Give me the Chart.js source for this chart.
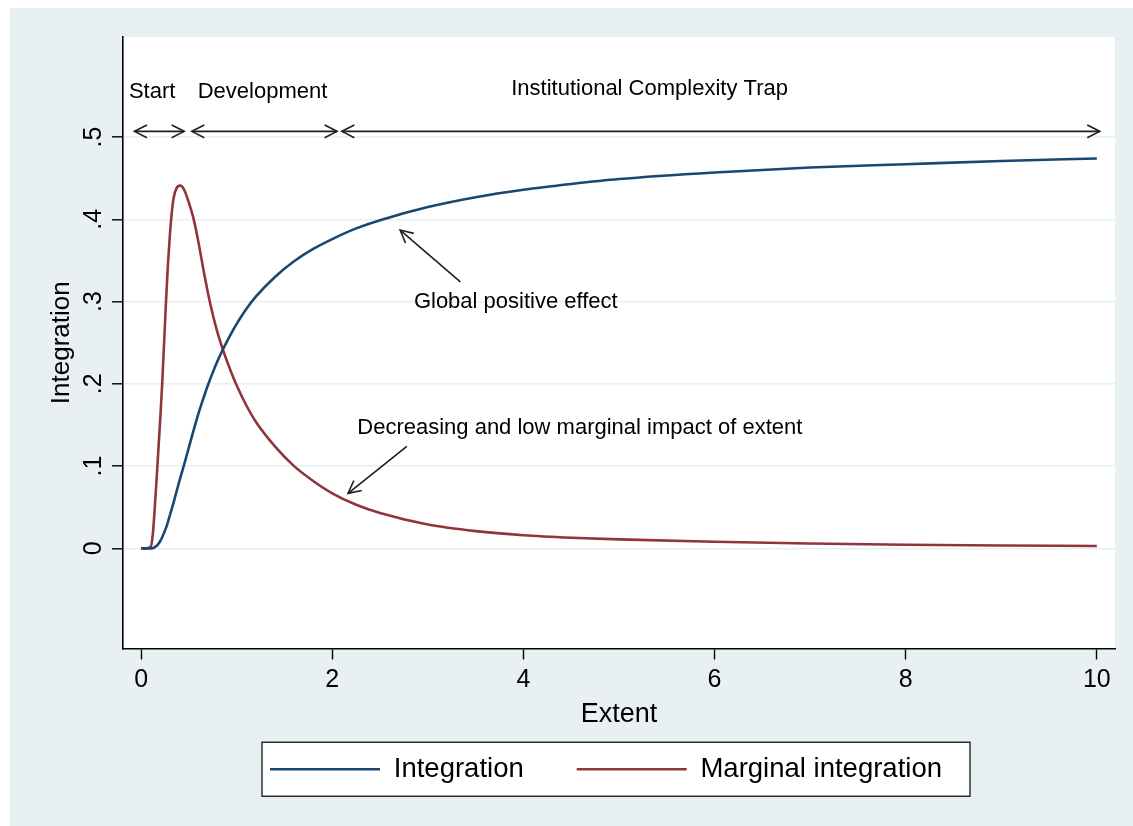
<!DOCTYPE html>
<html>
<head>
<meta charset="utf-8">
<script src="https://cdn.jsdelivr.net/npm/chart.js@4.4.1/dist/chart.umd.min.js"></script>
<style>
  html, body { margin: 0; padding: 0; background: #fff; }
  #panel { position: absolute; left: 10px; top: 8px; width: 1123px; height: 818px; background: #e9f0f3; }
</style>
</head>
<body>
<div id="panel"><canvas id="chart"></canvas></div>
<script>
    // values
    const extent = [0, 0.05, 0.1, 0.12, 0.14, 0.17, 0.2, 0.22, 0.26, 0.28, 0.3, 0.32, 0.34, 0.37, 0.41, 0.45, 0.5, 0.55,
        0.6, 0.65, 0.7, 0.75, 0.8, 0.86, 0.9, 0.96, 1.0, 1.1, 1.2, 1.4, 1.6, 1.8, 2.0, 2.25, 2.5,
        3, 3.5, 4, 4.5, 5, 6, 7, 8, 9, 10];
    const integration = [0, 0, 0, 0.0003, 0.0012, 0.004, 0.009, 0.0135, 0.025, 0.032, 0.04, 0.048, 0.056, 0.069, 0.086, 0.102, 0.123, 0.144,
        0.164, 0.182, 0.199, 0.214, 0.228, 0.243, 0.252, 0.265, 0.273, 0.291, 0.306, 0.330, 0.349, 0.364, 0.376, 0.389, 0.399,
        0.415, 0.427, 0.436, 0.443, 0.449, 0.457, 0.463, 0.467, 0.471, 0.474];
    const marginal = [0, 0, 0.002, 0.015, 0.045, 0.10, 0.158, 0.20, 0.30, 0.345, 0.38, 0.408, 0.426, 0.438, 0.441, 0.436, 0.42, 0.40,
        0.372, 0.340, 0.310, 0.284, 0.262, 0.240, 0.227, 0.209, 0.198, 0.174, 0.154, 0.124, 0.100, 0.082, 0.067, 0.053, 0.043,
        0.029, 0.021, 0.016, 0.013, 0.011, 0.008, 0.006, 0.0045, 0.0036, 0.003];

    const xTicks = [0, 2, 4, 6, 8, 10];
    const yTicks = [0, 0.1, 0.2, 0.3, 0.4, 0.5];
    const yTickLabels = ['0', '.1', '.2', '.3', '.4', '.5'];

    // phase labels and their double arrows (data units)
    const phaseNames = ['Start', 'Development', 'Institutional Complexity Trap'];
    const phaseTextX = [0.115, 1.27, 5.32];
    const phaseTextY = [0.555, 0.555, 0.558];
    const phaseFrom = [-0.07, 0.53, 2.10];
    const phaseTo = [0.45, 2.05, 10.03];
    const phaseArrowY = 0.507;

    // callouts: text position, arrow tail, arrow head
    const calloutText = ['Global positive effect', 'Decreasing and low marginal impact of extent'];
    const calloutPos = [[3.92, 0.300], [4.59, 0.146]];
    const calloutTail = [[3.34, 0.324], [2.78, 0.124]];
    const calloutHead = [[2.71, 0.387], [2.165, 0.067]];

    const FONT = '"Liberation Sans", Arial, Helvetica, sans-serif';
    Chart.defaults.font.family = FONT;
    Chart.defaults.color = '#000';

    function arrowHead(ctx, x1, y1, x2, y2) {
        const a = Math.atan2(y2 - y1, x2 - x1);
        const len = 14, spread = 0.47;
        ctx.beginPath();
        ctx.moveTo(x2 - len * Math.cos(a - spread), y2 - len * Math.sin(a - spread));
        ctx.lineTo(x2, y2);
        ctx.lineTo(x2 - len * Math.cos(a + spread), y2 - len * Math.sin(a + spread));
        ctx.stroke();
    }

    function arrow(ctx, x1, y1, x2, y2, both) {
        ctx.beginPath();
        ctx.moveTo(x1, y1);
        ctx.lineTo(x2, y2);
        ctx.stroke();
        arrowHead(ctx, x1, y1, x2, y2);
        if (both) arrowHead(ctx, x2, y2, x1, y1);
    }

    const plotBg = {
        id: 'plotBg',
        afterLayout(chart) {
            // Stata centres the legend a bit further left
            chart.legend.left -= 13;
            chart.legend.right -= 13;
        },
        beforeDraw(chart) {
            const { ctx, chartArea: a } = chart;
            ctx.save();
            ctx.fillStyle = '#fff';
            ctx.fillRect(a.left, a.top, a.right - a.left, a.bottom - a.top);
            ctx.restore();
        }
    };

    const notes = {
        id: 'notes',
        afterDatasetsDraw(chart) {
            const { ctx, scales: { x, y } } = chart;
            ctx.save();
            ctx.fillStyle = '#000';
            ctx.strokeStyle = '#1e1e1e';
            ctx.lineWidth = 1.6;
            ctx.font = '22px ' + FONT;
            ctx.textAlign = 'center';
            ctx.textBaseline = 'middle';

            const py = y.getPixelForValue(phaseArrowY);
            phaseNames.forEach((t, i) => {
                ctx.fillText(t, x.getPixelForValue(phaseTextX[i]), y.getPixelForValue(phaseTextY[i]));
                arrow(ctx, x.getPixelForValue(phaseFrom[i]), py, x.getPixelForValue(phaseTo[i]), py, true);
            });

            calloutText.forEach((t, i) => {
                ctx.fillText(t, x.getPixelForValue(calloutPos[i][0]), y.getPixelForValue(calloutPos[i][1]));
                arrow(ctx,
                    x.getPixelForValue(calloutTail[i][0]), y.getPixelForValue(calloutTail[i][1]),
                    x.getPixelForValue(calloutHead[i][0]), y.getPixelForValue(calloutHead[i][1]), false);
            });
            ctx.restore();
        },
        afterDraw(chart) {
            // frame round the legend, like Stata's
            const boxes = chart.legend.legendHitBoxes;
            if (!boxes || !boxes.length) return;
            const left = Math.min(...boxes.map(b => b.left)) - 8;
            const right = Math.max(...boxes.map(b => b.left + b.width)) + 28;
            const cy = boxes[0].top + boxes[0].height / 2;
            const ctx = chart.ctx;
            ctx.save();
            ctx.fillStyle = '#fff';
            ctx.strokeStyle = '#222';
            ctx.lineWidth = 1.4;
            ctx.globalCompositeOperation = 'destination-over';
            ctx.fillRect(left, cy - 27, right - left, 54);
            ctx.globalCompositeOperation = 'source-over';
            ctx.strokeRect(left, cy - 27, right - left, 54);
            ctx.restore();
        }
    };

    const toPoints = vals => extent.map((e, i) => ({ x: e, y: vals[i] }));

    new Chart(document.getElementById('chart'), {
        type: 'line',
        data: {
            datasets: [
                {
                    label: 'Integration',
                    data: toPoints(integration),
                    borderColor: '#1a476f',
                    backgroundColor: '#1a476f',
                    borderWidth: 2.6,
                    pointRadius: 0,
                    cubicInterpolationMode: 'monotone'
                },
                {
                    label: 'Marginal integration',
                    data: toPoints(marginal),
                    borderColor: '#90353b',
                    backgroundColor: '#90353b',
                    borderWidth: 2.6,
                    pointRadius: 0,
                    cubicInterpolationMode: 'monotone'
                }
            ]
        },
        options: {
            responsive: true,
            maintainAspectRatio: false,
            animation: false,
            layout: { padding: { left: 0, top: 29, right: 18, bottom: 33 } },
            plugins: {
                tooltip: { enabled: false },
                legend: {
                    position: 'bottom',
                    fullSize: false,
                    labels: {
                        usePointStyle: true,
                        pointStyle: 'line',
                        pointStyleWidth: 110,
                        padding: 53,
                        color: '#000',
                        font: { size: 27.5 }
                    }
                }
            },
            scales: {
                x: {
                    type: 'linear',
                    min: -0.19,
                    max: 10.19,
                    afterFit: s => { s.height = 54; },
                    afterBuildTicks: s => { s.ticks = xTicks.map(v => ({ value: v })); },
                    ticks: { font: { size: 25 }, color: '#000', padding: 6, minRotation: 0, maxRotation: 0, callback: v => String(v) },
                    grid: { drawOnChartArea: false, tickColor: '#000', tickLength: 11, tickWidth: 1.4 },
                    border: { color: '#000', width: 1.6 },
                    title: { display: true, text: 'Extent', font: { size: 27 }, color: '#000', padding: { top: 0, bottom: -28 } }
                },
                y: {
                    min: -0.1217,
                    max: 0.6217,
                    afterFit: s => { s.width = 113; },
                    afterBuildTicks: s => { s.ticks = yTicks.map(v => ({ value: v })); },
                    ticks: {
                        font: { size: 25 }, color: '#000', padding: 7,
                        minRotation: 90, maxRotation: 90, crossAlign: 'center',
                        callback: v => yTickLabels[yTicks.indexOf(v)]
                    },
                    grid: { color: '#e6eff2', lineWidth: 1.6, tickColor: '#000', tickLength: 11, tickWidth: 1.4 },
                    border: { color: '#000', width: 1.6 },
                    title: { display: true, text: 'Integration', font: { size: 26 }, color: '#000', padding: { top: 36, bottom: 0 } }
                }
            }
        },
        plugins: [plotBg, notes]
    });
</script>
</body>
</html>
